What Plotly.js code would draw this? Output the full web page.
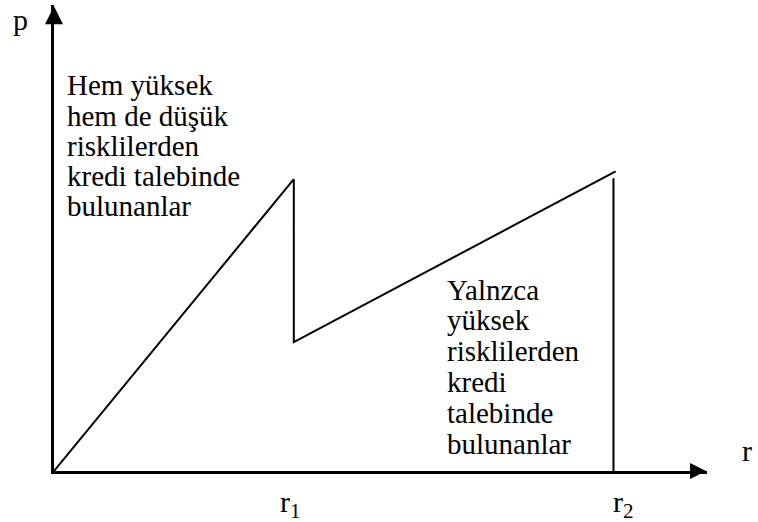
<!DOCTYPE html>
<html>
<head>
<meta charset="utf-8">
<script src="https://cdn.plot.ly/plotly-3.0.1.min.js"></script>
<style>
  html, body { margin: 0; padding: 0; background: #ffffff; }
  #chart { width: 758px; height: 522px; }
</style>
</head>
<body>
<div id="chart"></div>
<script>
// Interest rate r (horizontal) against expected bank return p (vertical)
const rPoints = [0, 1.0, 1.0, 2.342];     // origin, r1, r1 (drop), end of second segment
const pPoints = [0, 0.997, 0.440, 1.024]; // return rises, falls at r1, rises again
const r1 = 1.0;
const r2 = 2.333;
const pCutoff = 1.0;                      // height of the vertical line at r2

const tickNames = ['r<sub>1</sub>', 'r<sub>2</sub>'];
const tickValues = [r1, r2];

const leftLines = ['Hem yüksek', 'hem de düşük', 'risklilerden', 'kredi talebinde', 'bulunanlar'];
const rightLines = ['Yalnzca', 'yüksek', 'risklilerden', 'kredi', 'talebinde', 'bulunanlar'];

// arrow tips of the two axes, and the axis ranges just past them
const xTip = 2.719;
const yTip = 1.588;
const xMax = 2.723;
const yMax = 1.592;

const serif = 'Liberation Serif';

const traces = [
  {
    x: rPoints, y: pPoints, type: 'scatter', mode: 'lines',
    line: { color: '#000000', width: 2 }, cliponaxis: false, hoverinfo: 'skip'
  },
  {
    x: [r2, r2], y: [0, pCutoff], type: 'scatter', mode: 'lines',
    line: { color: '#000000', width: 2 }, cliponaxis: false, hoverinfo: 'skip'
  },
  // arrow heads at the ends of both axes
  {
    x: [0], y: [yTip], type: 'scatter', mode: 'markers', cliponaxis: false,
    marker: { symbol: 'arrow-up', size: 18, color: '#000000', line: { width: 0 } },
    hoverinfo: 'skip'
  },
  {
    x: [xTip], y: [0], type: 'scatter', mode: 'markers', cliponaxis: false,
    marker: { symbol: 'arrow-right', size: 16, color: '#000000', line: { width: 0 } },
    hoverinfo: 'skip'
  }
];

const annotations = [];
function textBlock(lines, x, yTop, step, size) {
  lines.forEach((t, i) => {
    annotations.push({
      text: t, x: x, y: yTop - i * step, xref: 'x', yref: 'y',
      xanchor: 'left', yanchor: 'middle', showarrow: false,
      font: { family: serif, size: size, color: '#000000' }
    });
  });
}
textBlock(leftLines, 0.046, 1.318, 0.1035, 29);
textBlock(rightLines, 1.630, 0.62, 0.1055, 29);

// axis names
annotations.push({
  text: 'p', xref: 'paper', yref: 'paper', x: -0.052, y: 0.968, xanchor: 'center', yanchor: 'middle',
  showarrow: false, font: { family: serif, size: 30, color: '#000000' }
});
annotations.push({
  text: 'r', xref: 'paper', yref: 'paper', x: 1.0505, y: 0.045, xanchor: 'left', yanchor: 'middle',
  showarrow: false, font: { family: serif, size: 30, color: '#000000' }
});
// marks on the r axis
tickNames.forEach((t, i) => {
  annotations.push({
    text: t, x: tickValues[i], xref: 'x', yref: 'paper', y: 0, yanchor: 'top',
    xanchor: 'center', yshift: -12, xshift: i === 0 ? -3 : 10,
    showarrow: false, font: { family: serif, size: 30, color: '#000000' }
  });
});

const layout = {
  width: 758, height: 522,
  margin: { l: 54, r: 51, t: 5, b: 51 },
  paper_bgcolor: '#ffffff', plot_bgcolor: '#ffffff',
  font: { family: serif, color: '#000000' },
  showlegend: false,
  xaxis: {
    range: [0, xMax], showline: true, linecolor: '#000000', linewidth: 3,
    showgrid: false, zeroline: false, ticks: '', showticklabels: false, fixedrange: true
  },
  yaxis: {
    range: [0, yMax], showline: true, linecolor: '#000000', linewidth: 3,
    showgrid: false, zeroline: false, ticks: '', showticklabels: false, fixedrange: true
  },
  annotations: annotations
};

Plotly.newPlot('chart', traces, layout, { displayModeBar: false, staticPlot: true });
</script>
</body>
</html>
